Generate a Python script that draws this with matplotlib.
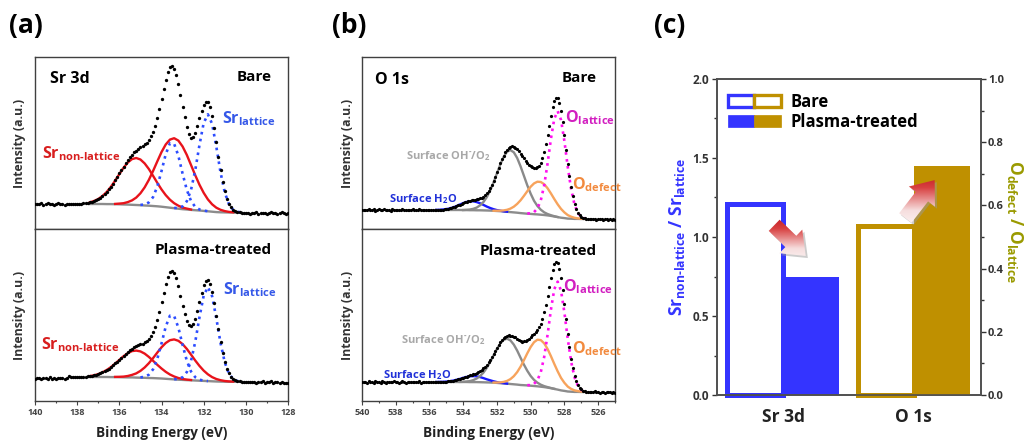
import numpy as np
import matplotlib
matplotlib.use('Agg')
import matplotlib.pyplot as plt
from matplotlib.patches import FancyArrowPatch, Patch
from matplotlib.legend_handler import HandlerTuple
from matplotlib.colors import LinearSegmentedColormap
from matplotlib.ticker import MultipleLocator, FormatStrFormatter
import matplotlib.transforms as mtransforms

nan = np.nan

# ---------------- (a) Sr 3d ----------------
sr_energy = np.round(np.linspace(140.0, 128.0, 121), 1)
sr_bare_data = [
    8.6, 9.4, 8.9, 9.7, 8.4, 9.1, 9.8, 8.7, 9.3, 8.2, 9.0, 9.6, 8.8, 9.2, 8.5, 9.4, 9.0, 8.7, 9.3, 9.1,
    9.2, 9.3, 9.4, 9.6, 9.9, 10.2, 10.6, 11.2, 12.0, 12.9,
    14.0, 15.3, 17.0, 18.8, 21.0, 23.6, 26.3, 29.4, 32.6, 35.9,
    39.6, 43.0, 46.5, 49.7, 53.0, 55.8, 58.3, 60.6, 62.4, 64.2,
    65.7, 67.1, 68.7, 70.5, 73.1, 76.6, 81.1, 87.3, 94.8, 103.8,
    113.8, 124.0, 133.5, 141.1, 145.8, 146.9, 144.4, 138.1, 129.1, 118.1,
    106.5, 95.7, 86.0, 79.0, 75.5, 76.0, 80.0, 87.3, 94.8, 102.2,
    108.4, 111.5, 110.6, 105.7, 96.6, 84.6, 70.7, 56.4, 43.1, 31.3,
    21.9, 14.5, 9.4, 5.7, 3.5, 2.1, 1.3, 0.7, 0.5, 0.3,
    0.2,
    0.4, -0.5, 0.3, -0.2, 0.6, -0.6, 0.1, 0.5, -0.3, -0.8, 0.2, 0.7, -0.4, 0.0, -0.9, 0.3, 0.6, -0.2, -1.0, 0.4]
sr_plasma_data = [
    3.2, 4.1, 3.6, 3.0, 4.3, 3.8, 3.3, 4.6, 3.5, 3.9, 3.1, 4.2, 3.7, 4.4, 3.4, 4.0, 5.8, 5.2, 4.7, 5.3,
    5.1, 5.2, 5.3, 5.4, 5.5, 5.7, 5.9, 6.3, 6.7, 7.2,
    7.9, 8.6, 9.6, 10.7, 12.0, 13.4, 15.0, 16.7, 18.6, 20.5,
    22.5, 24.4, 26.5, 28.4, 30.2, 31.9, 33.4, 34.6, 35.6, 36.7,
    37.7, 38.5, 39.7, 41.1, 43.2, 45.9, 50.0, 55.4, 62.3, 70.5,
    79.7, 89.1, 98.1, 105.3, 109.8, 111.2, 109.1, 103.7, 95.7, 86.3,
    76.5, 67.7, 61.0, 56.8, 55.9, 58.1, 63.5, 71.4, 80.5, 89.4,
    96.9, 101.2, 101.7, 97.9, 90.1, 79.2, 66.4, 53.0, 40.4, 29.3,
    20.4, 13.4, 8.6, 5.2, 3.1, 1.7, 1.0, 0.6, 0.4, 0.2,
    0.1,
    0.3, -0.4, 0.5, 0.0, -0.6, 0.4, -0.2, 0.7, -0.5, 0.1, -0.3, 0.6, -0.7, 0.2, -0.4, -0.9, 0.3, -0.6, -1.2, -0.8]

sr_fit_energy = np.round(np.linspace(137.4, 130.2, 37), 1)
sr_bare_bg = [9.0, 9.0, 9.0, 9.0, 8.9, 8.9, 8.8, 8.7, 8.5, 8.4, 8.2, 8.0, 7.8, 7.5, 7.3, 7.0, 6.7, 6.3, 5.8,
              5.3, 4.8, 4.3, 3.8, 3.5, 3.1, 2.8, 2.5, 2.1, 1.7, 1.3, 0.9, 0.7, 0.6, 0.5, 0.4, 0.4, 0.3]
sr_bare_nonlat_1 = [10.6, 12.0, 14.0, 17.0, 21.0, 26.2, 32.3, 38.9, 45.2, 50.5, 53.9, 55.0, 53.5, 49.6, 44.0,
                    37.2, 30.2, 23.6, 17.9, 13.3, 9.8, 7.3, 5.4, 4.4, 3.5] + [nan] * 12
sr_bare_nonlat_2 = [nan] * 6 + [9.1, 9.4, 9.8, 10.9, 12.6, 15.4, 19.7, 25.6, 33.1, 42.0, 51.6, 60.9, 68.5, 73.4,
                                74.8, 72.4, 66.5, 58.1, 48.0, 37.8, 28.3, 20.2, 13.6, 8.7, 5.3, 3.2, 1.9, 1.1, 0.7] + [nan] * 2
sr_bare_lat_1 = [nan] * 12 + [8.1, 8.5, 10.6, 15.9, 26.4, 41.9, 58.7, 69.7, 69.2, 57.2, 39.4, 23.2, 12.0, 6.1,
                              3.5, 2.4, 1.8] + [nan] * 8
sr_bare_lat_2 = [nan] * 20 + [5.0, 5.1, 6.6, 11.7, 23.1, 42.7, 67.9, 90.0, 98.7, 89.2, 66.3, 40.6, 20.6, 8.7,
                              3.2, 1.2, 0.5]

sr_plasma_bg = [5.0, 5.0, 5.0, 5.0, 5.0, 4.9, 4.9, 4.8, 4.7, 4.6, 4.6, 4.4, 4.3, 4.2, 4.0, 3.9, 3.7, 3.5, 3.2,
                2.9, 2.6, 2.3, 2.1, 1.9, 1.7, 1.5, 1.3, 1.1, 0.9, 0.7, 0.5, 0.4, 0.3, 0.2, 0.2, 0.2, 0.2]
sr_plasma_nonlat_1 = [5.9, 6.7, 7.9, 9.6, 12.0, 14.9, 18.4, 22.1, 25.8, 28.8, 30.9, 31.4, 30.6, 28.4, 25.1,
                      21.2, 17.2, 13.5, 10.2, 7.5, 5.5, 4.0, 3.0, 2.4, 2.0] + [nan] * 12
sr_plasma_nonlat_2 = [nan] * 6 + [5.1, 5.2, 5.4, 6.0, 7.1, 8.6, 11.1, 14.5, 18.8, 23.9, 29.4, 34.7, 39.0, 41.8,
                                  42.6, 41.2, 37.9, 33.1, 27.4, 21.5, 16.1, 11.4, 7.7, 4.9, 3.0, 1.8, 1.0, 0.6, 0.4] + [nan] * 2
sr_plasma_lat_1 = [nan] * 12 + [4.6, 5.2, 7.3, 12.7, 23.1, 38.5, 55.3, 66.3, 66.0, 54.4, 37.1, 21.3, 10.5, 4.8,
                                2.3, 1.4, 0.9] + [nan] * 8
sr_plasma_lat_2 = [nan] * 20 + [2.8, 3.0, 4.8, 9.9, 21.1, 40.1, 64.7, 86.3, 94.9, 85.9, 63.9, 39.0, 19.7, 8.2,
                                2.9, 0.9, 0.4]

# ---------------- (b) O 1s ----------------
o_energy = np.round(np.linspace(540.0, 525.0, 151), 1)
o_bare_data = [
    8.7, 9.5, 9.1, 8.6, 9.8, 9.2, 8.9, 9.6, 8.4, 9.3, 9.7, 8.8, 9.1, 9.9, 8.6, 9.4, 9.0, 8.5, 9.6, 9.2,
    8.8, 9.5, 9.1, 8.7, 9.8, 9.0, 8.6, 9.4, 9.2, 8.9, 9.7, 9.1, 8.8, 9.3, 9.6, 8.9, 9.2, 9.5, 8.8, 9.1,
    9.0, 9.1, 9.1, 9.1, 9.1, 9.2, 9.2, 9.3, 9.5, 9.7,
    9.9, 10.2, 10.6, 11.1, 11.6, 12.2, 12.9, 13.7, 14.5, 15.2,
    16.0, 16.7, 17.4, 18.0, 18.4, 18.8, 19.1, 19.4, 19.6, 20.0,
    20.7, 21.3, 22.5, 23.9, 25.8, 28.2, 31.2, 34.5, 38.3, 42.4,
    46.8, 51.4, 55.6, 59.8, 63.5, 66.8, 69.4, 71.3, 72.4, 72.8,
    72.4, 71.3, 69.8, 67.8, 65.5, 63.2, 60.7, 58.4, 56.4, 54.5,
    53.1, 51.8, 51.1, 51.0, 51.6, 53.3, 56.3, 60.8, 67.0, 74.7,
    83.8, 93.5, 103.3, 111.8, 118.1, 121.4, 120.8, 116.2, 107.9, 96.7,
    83.6, 69.4, 55.5, 42.7, 31.8, 22.6, 15.5, 10.3, 6.5, 4.0,
    2.4, 1.4, 0.7, 0.3, 0.2, 0.1,
    0.3, -0.4, 0.2, -0.6, 0.1, 0.5, -0.3, -0.8, 0.0, 0.4, -0.5, -0.2, -0.9, -0.4, -0.7]
o_plasma_data = [
    10.4, 9.6, 10.2, 9.3, 10.7, 9.9, 10.3, 9.5, 10.8, 9.7, 10.1, 9.4, 10.6, 10.0, 9.2, 10.5, 9.8, 10.2, 9.6, 10.9,
    9.9, 10.3, 9.5, 10.1, 10.6, 9.7, 9.3, 10.4, 10.0, 9.8, 10.5, 9.6, 10.2, 9.9, 10.7, 9.5, 10.1, 10.3, 9.8, 10.0,
    10.0, 10.0, 10.0, 10.1, 10.1, 10.1, 10.1, 10.2, 10.2, 10.3,
    10.4, 10.6, 10.8, 11.1, 11.4, 11.7, 12.2, 12.6, 13.2, 13.8,
    14.4, 15.0, 15.5, 16.1, 16.7, 17.2, 17.9, 18.5, 19.2, 20.0,
    21.0, 22.2, 23.6, 25.3, 27.3, 29.6, 32.3, 35.1, 38.2, 41.2,
    44.3, 47.0, 49.7, 52.0, 53.9, 55.3, 56.2, 56.6, 56.5, 56.1,
    55.5, 54.7, 53.0, 51.9, 51.0, 50.5, 50.6, 51.2, 52.2, 53.4,
    55.3, 56.6, 58.1, 59.7, 61.9, 64.8, 68.5, 73.4, 79.7, 87.3,
    96.2, 105.5, 114.5, 122.3, 127.9, 130.0, 128.7, 123.1, 113.8, 101.7,
    87.6, 72.7, 58.0, 44.7, 33.1, 23.7, 16.2, 10.8, 6.9, 4.2,
    2.6, 1.4, 0.8, 0.4, 0.2, 0.1,
    0.4, -0.3, 0.6, -0.2, 0.1, -0.5, 0.3, -0.1, -0.6, 0.2, -0.4, 0.0, -0.7, -0.3, -0.5]

o_fit_energy = np.round(np.linspace(535.6, 526.8, 45), 1)
o_bare_bg = [9.0, 9.0, 9.0, 9.0, 9.0, 9.0, 9.0, 9.0, 8.9, 8.9, 8.8, 8.8, 8.7, 8.7, 8.6, 8.5, 8.4, 8.2, 8.0,
             7.8, 7.5, 7.2, 6.9, 6.6, 6.3, 5.9, 5.6, 5.3, 5.1, 4.8, 4.6, 4.3, 4.0, 3.6, 3.1, 2.5, 1.9, 1.3,
             0.9, 0.4, 0.3, 0.1, 0.1, 0.0, 0.0]
o_bare_h2o = [9.1, 9.2, 9.5, 9.9, 10.6, 11.6, 12.9, 14.5, 15.9, 17.1, 17.7, 17.7, 16.9, 15.7, 14.1, 12.4,
              11.0, 9.8, 8.9, 8.3, 7.7, 7.3] + [nan] * 23
o_bare_oh = [nan] * 8 + [9.0, 9.2, 9.5, 10.2, 11.4, 13.7, 17.0, 21.9, 28.6, 36.6, 45.6, 54.6, 62.2, 67.3, 68.9,
                         66.7, 61.0, 52.7, 43.2, 33.7, 25.3, 18.2, 13.0, 9.3, 6.7, 5.0, 3.8, 2.8, 2.0] + [nan] * 8
o_bare_defect = [nan] * 17 + [8.3, 8.3, 8.3, 8.6, 9.2, 10.4, 12.3, 15.1, 18.7, 23.1, 27.8, 32.3, 35.6, 37.3, 37.0,
                              34.8, 30.8, 25.6, 20.0, 14.7, 10.1, 6.6, 3.9, 2.3, 1.2, 0.6, 0.3, 0.1]
o_bare_lattice = [nan] * 27 + [5.5, 5.7, 6.9, 10.5, 18.6, 33.5, 55.2, 80.1, 100.3, 107.9, 99.1, 77.9, 52.0,
                               29.8, 14.4, 6.0, 2.1, 0.6]

o_plasma_bg = [10.0, 10.0, 10.0, 10.0, 10.0, 10.0, 10.0, 10.0, 10.0, 10.0, 9.9, 9.9, 9.9, 9.8, 9.7, 9.6, 9.5,
               9.3, 9.1, 8.8, 8.6, 8.3, 8.0, 7.7, 7.4, 7.0, 6.8, 6.6, 6.3, 6.0, 5.7, 5.3, 4.9, 4.4, 3.8, 3.1,
               2.4, 1.6, 1.1, 0.5, 0.3, 0.1, 0.1, 0.0, 0.0]
o_plasma_h2o = [10.0, 10.1, 10.2, 10.4, 10.8, 11.4, 12.2, 13.1, 14.2, 15.1, 15.7, 15.9, 15.7, 14.9, 13.9, 12.7,
                11.7, 10.7, 9.9, 9.2, 8.8, 8.4] + [nan] * 23
o_plasma_oh = [nan] * 7 + [10.1, 10.2, 10.5, 10.9, 11.9, 13.5, 15.9, 19.4, 24.2, 30.1, 36.6, 43.1, 48.5, 52.2,
                           53.3, 51.6, 47.4, 41.4, 34.3, 27.4, 21.2, 16.0, 12.1, 9.3, 7.3, 5.9, 4.9, 4.0, 3.2] + [nan] * 9
o_plasma_defect = [nan] * 17 + [9.5, 9.5, 9.6, 10.1, 11.1, 12.9, 15.8, 19.9, 25.3, 31.8, 38.7, 45.0, 49.8, 52.3,
                                51.9, 48.7, 43.1, 35.9, 28.1, 20.7, 14.1, 9.2, 5.4, 3.1, 1.6, 0.9, 0.4, 0.2]
o_plasma_lattice = [nan] * 27 + [6.8, 6.9, 8.2, 11.7, 19.9, 34.9, 57.0, 82.2, 102.8, 110.4, 101.3, 79.5, 53.1,
                                 30.3, 14.7, 6.1, 2.2, 0.6]

# ---------------- (c) ratios ----------------
ratio_categories = ['Sr 3d', 'O 1s']
ratio_bare = [1.21, 0.535]      # Sr on left axis, O on right axis
ratio_plasma = [0.75, 0.725]
ratio_legend = ['Bare', 'Plasma-treated']

# ---------------- style ----------------
plt.rcParams['font.family'] = ['Open Sans', 'DejaVu Sans']
plt.rcParams['font.weight'] = 'bold'
plt.rcParams['axes.labelweight'] = 'bold'
plt.rcParams['mathtext.fontset'] = 'custom'
plt.rcParams['mathtext.rm'] = 'Open Sans:bold'
plt.rcParams['mathtext.it'] = 'Open Sans:bold'
plt.rcParams['mathtext.bf'] = 'Open Sans:bold'
plt.rcParams['mathtext.sf'] = 'Open Sans:bold'
plt.rcParams['mathtext.default'] = 'rm'

BLACK = '#000000'
RED = '#e8131b'
BLUE_DOT = '#2d4dff'
GRAY = '#8c8c8c'
OH_GRAY = '#8a8a8a'
ORANGE = '#f7a35c'
MAGENTA = '#ff10f0'
H2O_BLUE = '#1a1aff'
SPINE = '#404040'

W, H = 1027, 440
fig = plt.figure(figsize=(W / 100, H / 100), dpi=100)
fig.patch.set_facecolor('white')


def px_rect(x0, y0, x1, y1):
    return [x0 / W, 1 - y1 / H, (x1 - x0) / W, (y1 - y0) / H]


def spec_axes(rect, xlim, ylim, bottom, label_x):
    ax = fig.add_axes(rect)
    ax.set_xlim(*xlim)
    ax.set_ylim(*ylim)
    ax.set_yticks([])
    for s in ax.spines.values():
        s.set_color(SPINE)
        s.set_linewidth(1.0)
    if bottom:
        ax.xaxis.set_major_locator(MultipleLocator(2))
        ax.xaxis.set_minor_locator(MultipleLocator(1))
        ax.tick_params(axis='x', which='major', direction='out', length=3, width=0.8,
                       labelsize=6.5, colors='#444444', pad=2)
        ax.tick_params(axis='x', which='minor', direction='out', length=1.5, width=0.8, colors='#444444')
        ax.set_xlabel('Binding Energy (eV)', fontsize=9.8, color='#222222')
        ax.xaxis.set_label_coords(0.5, -0.145)
    else:
        ax.set_xticks([])
        ax.tick_params(axis='x', which='both', bottom=False, labelbottom=False)
    ax.set_ylabel('Intensity (a.u.)', fontsize=8.8, color='#333333')
    ax.yaxis.set_label_coords(label_x, 0.5)
    return ax


def draw_sr(ax, data, bg, nl1, nl2, l1, l2):
    ax.plot(sr_fit_energy, bg, color=GRAY, lw=1.7, zorder=2)
    ax.plot(sr_fit_energy, nl1, color=RED, lw=1.7, zorder=3)
    ax.plot(sr_fit_energy, nl2, color=RED, lw=1.7, zorder=3)
    ax.plot(sr_fit_energy, l1, color=BLUE_DOT, lw=1.9, ls=':', zorder=3)
    ax.plot(sr_fit_energy, l2, color=BLUE_DOT, lw=1.9, ls=':', zorder=3)
    ax.plot(sr_energy, data, 'o', ms=2.4, mec='none', color=BLACK, zorder=4)


def draw_o(ax, data, bg, h2o, oh, dfc, lat):
    ax.plot(o_fit_energy, bg, color=GRAY, lw=1.7, zorder=2)
    ax.plot(o_fit_energy, h2o, color=H2O_BLUE, lw=1.7, zorder=3)
    ax.plot(o_fit_energy, oh, color=OH_GRAY, lw=1.7, zorder=3)
    ax.plot(o_fit_energy, dfc, color=ORANGE, lw=1.7, zorder=3)
    ax.plot(o_fit_energy, lat, color=MAGENTA, lw=1.9, ls=':', zorder=3)
    ax.plot(o_energy, data, 'o', ms=2.3, mec='none', color=BLACK, zorder=4)


# ---- panel (a)
axa1 = spec_axes(px_rect(35, 57, 288, 229), (140, 128), (-16, 156), False, -0.036)
axa2 = spec_axes(px_rect(35, 229, 288, 401), (140, 128), (-19, 153), True, -0.036)
draw_sr(axa1, sr_bare_data, sr_bare_bg, sr_bare_nonlat_1, sr_bare_nonlat_2, sr_bare_lat_1, sr_bare_lat_2)
draw_sr(axa2, sr_plasma_data, sr_plasma_bg, sr_plasma_nonlat_1, sr_plasma_nonlat_2, sr_plasma_lat_1, sr_plasma_lat_2)

axa1.text(0.06, 0.875, 'Sr 3d', transform=axa1.transAxes, fontsize=11.5, ha='left', va='center')
axa1.text(0.935, 0.884, 'Bare', transform=axa1.transAxes, fontsize=11, ha='right', va='center')
axa1.text(0.739, 0.642, r'Sr$_{\text{lattice}}$', transform=axa1.transAxes, fontsize=11.5,
          color='#3558e8', ha='left', va='center')
axa1.text(0.028, 0.436, r'Sr$_{\text{non-lattice}}$', transform=axa1.transAxes, fontsize=11.5,
          color='#d81e1e', ha='left', va='center')
axa2.text(0.937, 0.878, 'Plasma-treated', transform=axa2.transAxes, fontsize=11, ha='right', va='center')
axa2.text(0.743, 0.645, r'Sr$_{\text{lattice}}$', transform=axa2.transAxes, fontsize=11.5,
          color='#3558e8', ha='left', va='center')
axa2.text(0.024, 0.326, r'Sr$_{\text{non-lattice}}$', transform=axa2.transAxes, fontsize=11.5,
          color='#d81e1e', ha='left', va='center')

# ---- panel (b)
axb1 = spec_axes(px_rect(362, 57, 615, 229), (540, 525), (-10, 162), False, -0.032)
axb2 = spec_axes(px_rect(362, 229, 615, 401), (540, 525), (-9, 163), True, -0.032)
draw_o(axb1, o_bare_data, o_bare_bg, o_bare_h2o, o_bare_oh, o_bare_defect, o_bare_lattice)
draw_o(axb2, o_plasma_data, o_plasma_bg, o_plasma_h2o, o_plasma_oh, o_plasma_defect, o_plasma_lattice)

axb1.text(0.051, 0.869, 'O 1s', transform=axb1.transAxes, fontsize=11.5, ha='left', va='center')
axb1.text(0.929, 0.88, 'Bare', transform=axb1.transAxes, fontsize=11, ha='right', va='center')
axb1.text(0.802, 0.648, r'O$_{\text{lattice}}$', transform=axb1.transAxes, fontsize=11.5,
          color='#d21fc0', ha='left', va='center')
axb1.text(0.83, 0.256, r'O$_{\text{defect}}$', transform=axb1.transAxes, fontsize=11.5,
          color='#f28a3e', ha='left', va='center')
axb1.text(0.174, 0.424, r'Surface OH$^{\text{-}}$/O$_{2}$', transform=axb1.transAxes, fontsize=8,
          color='#a8a8a8', ha='left', va='center')
axb1.text(0.107, 0.174, r'Surface H$_{2}$O', transform=axb1.transAxes, fontsize=8,
          color='#2030d8', ha='left', va='center')
axb2.text(0.929, 0.875, 'Plasma-treated', transform=axb2.transAxes, fontsize=11, ha='right', va='center')
axb2.text(0.794, 0.666, r'O$_{\text{lattice}}$', transform=axb2.transAxes, fontsize=11.5,
          color='#d21fc0', ha='left', va='center')
axb2.text(0.83, 0.302, r'O$_{\text{defect}}$', transform=axb2.transAxes, fontsize=11.5,
          color='#f28a3e', ha='left', va='center')
axb2.text(0.154, 0.355, r'Surface OH$^{\text{-}}$/O$_{2}$', transform=axb2.transAxes, fontsize=8,
          color='#a8a8a8', ha='left', va='center')
axb2.text(0.083, 0.151, r'Surface H$_{2}$O', transform=axb2.transAxes, fontsize=8,
          color='#2030d8', ha='left', va='center')

# ---- panel (c)
BAR_BLUE = '#3434ff'
BAR_GOLD = '#bf9000'
axc = fig.add_axes(px_rect(717, 79, 981, 395))
ax2 = axc.twinx()
xpos = np.arange(len(ratio_categories))
bw = 0.43
axc.bar(xpos[0] - bw / 2, ratio_bare[0], width=bw, facecolor='white', edgecolor=BAR_BLUE, linewidth=3.6,
        zorder=2, clip_on=False)
axc.bar(xpos[0] + bw / 2, ratio_plasma[0], width=bw, facecolor=BAR_BLUE, edgecolor='none', zorder=3)
ax2.bar(xpos[1] - bw / 2, ratio_bare[1], width=bw, facecolor='white', edgecolor=BAR_GOLD, linewidth=3.6,
        zorder=2, clip_on=False)
ax2.bar(xpos[1] + bw / 2, ratio_plasma[1], width=bw, facecolor=BAR_GOLD, edgecolor='none', zorder=3)

for a in (axc, ax2):
    for s in a.spines.values():
        s.set_color('#505050')
        s.set_linewidth(1.2)
        s.set_zorder(4)

axc.yaxis.set_major_locator(MultipleLocator(0.5))
axc.yaxis.set_minor_locator(MultipleLocator(0.25))
axc.yaxis.set_major_formatter(FormatStrFormatter('%.1f'))
ax2.yaxis.set_major_locator(MultipleLocator(0.2))
ax2.yaxis.set_minor_locator(MultipleLocator(0.1))
ax2.yaxis.set_major_formatter(FormatStrFormatter('%.1f'))
for a in (axc, ax2):
    a.tick_params(axis='y', which='major', direction='out', length=3.5, width=1, labelsize=8.5,
                  colors='#333333', pad=2)
    a.tick_params(axis='y', which='minor', direction='out', length=2, width=1, colors='#333333')
ax2.tick_params(axis='y', which='major', labelsize=8, pad=1.5)
axc.set_xticks(xpos)
axc.set_xticklabels(ratio_categories, fontsize=12.5, color='#222222')
axc.tick_params(axis='x', length=0, pad=9)

axc.set_ylabel(r'Sr$_{\text{non-lattice}}$ / Sr$_{\text{lattice}}$', fontsize=12.5, color='#3434ff')
axc.yaxis.set_label_coords(-0.112, 0.5)
ax2.set_ylabel(r'O$_{\text{defect}}$ / O$_{\text{lattice}}$', fontsize=12.5, color='#9a9a00',
               rotation=270, va='bottom')
ax2.yaxis.set_label_coords(1.09, 0.55)

h_bare = (Patch(facecolor='white', edgecolor=BAR_BLUE, linewidth=2.4),
          Patch(facecolor='white', edgecolor=BAR_GOLD, linewidth=2.4))
h_plasma = (Patch(facecolor=BAR_BLUE, edgecolor=BAR_BLUE, linewidth=0.5),
            Patch(facecolor=BAR_GOLD, edgecolor=BAR_GOLD, linewidth=0.5))
ax2.legend([h_bare, h_plasma], ratio_legend, handler_map={tuple: HandlerTuple(ndivide=None, pad=0.0)},
           loc='upper left', bbox_to_anchor=(0.04, 0.955), frameon=False, fontsize=12,
           handlelength=3.2, handleheight=0.72, handletextpad=0.6, labelspacing=0.1,
           borderpad=0.0, borderaxespad=0.0)

# gradient 3D-like arrows (annotations)
arrow_cmap = LinearSegmentedColormap.from_list('arr', ['#ffffff', '#f6dede', '#d84040', '#b3000f'])
gradient = np.linspace(0, 1, 128).reshape(-1, 1)


def gradient_arrow(ax, p0, p1, box):
    style = 'simple,head_width=1.9,head_length=1.2,tail_width=0.9'
    shadow_tr = ax.transData + mtransforms.ScaledTranslation(1.5 / 72, -1.5 / 72, fig.dpi_scale_trans)
    sh = FancyArrowPatch(p0, p1, arrowstyle=style, mutation_scale=12.5, transform=shadow_tr,
                         facecolor='#9a9a9a', edgecolor='none', alpha=0.5, shrinkA=0, shrinkB=0, zorder=5)
    ax.add_patch(sh)
    arr = FancyArrowPatch(p0, p1, arrowstyle=style, mutation_scale=12.5, facecolor='none',
                          edgecolor='none', shrinkA=0, shrinkB=0, zorder=6)
    ax.add_patch(arr)
    im = ax.imshow(gradient, cmap=arrow_cmap, extent=box, origin='lower', aspect='auto',
                   interpolation='bilinear', zorder=6.1)
    im.set_clip_path(arr)


gradient_arrow(ax2, (-0.07, 0.537), (0.172, 0.440), (-0.14, 0.25, 0.40, 0.59))
gradient_arrow(ax2, (0.935, 0.560), (1.160, 0.680), (0.86, 1.24, 0.51, 0.73))

axc.set_xlim(-0.508, 1.515)
axc.set_ylim(0, 2.0)
ax2.set_ylim(0, 1.0)

# panel letters
fig.text(9 / W, 1 - 12 / H, '(a)', fontsize=19, ha='left', va='top')
fig.text(332 / W, 1 - 12 / H, '(b)', fontsize=19, ha='left', va='top')
fig.text(654 / W, 1 - 12 / H, '(c)', fontsize=19, ha='left', va='top')

fig.savefig('out.png', dpi=100, facecolor='white')
